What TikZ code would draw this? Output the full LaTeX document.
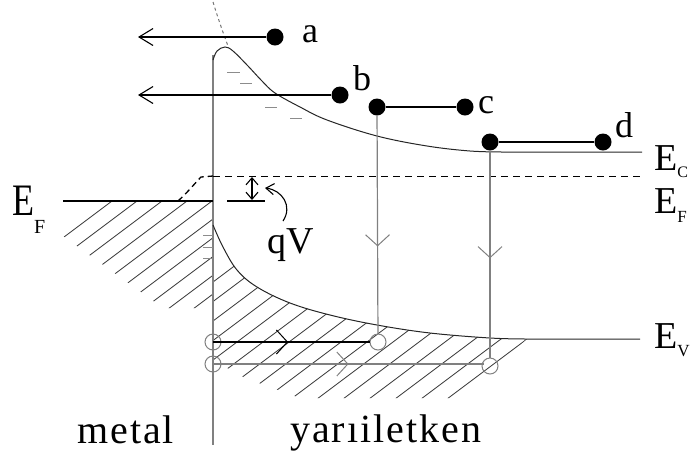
\documentclass[tikz,border=0pt]{standalone}
\usepackage{fontspec}
\setmainfont{Liberation Serif}
\newfontfamily\spaced[LetterSpace=5]{Liberation Serif}
\usetikzlibrary{arrows.meta,decorations.markings}
\newcommand{\Elab}[3]{E\raisebox{-#2}{\fontsize{#3}{#3}\selectfont #1}}
\begin{document}
\begin{tikzpicture}[x=1pt,y=-1pt,
  dot/.style={circle,fill=black,inner sep=0pt,minimum size=17pt},
  hole/.style={circle,draw=black!50,line width=1pt,inner sep=0pt,minimum size=16pt},
  lbl/.style={font=\fontsize{36}{36}\selectfont,inner sep=0pt,anchor=base west},
  elbl/.style={font=\fontsize{38}{38}\selectfont,inner sep=0pt,anchor=base west},
  bottomlbl/.style={font=\spaced\fontsize{40}{40}\selectfont,inner sep=0pt,anchor=base west},
  band/.style={line width=1pt,black!85},
  grayline/.style={line width=1.2pt,black!50},
  hatch/.style={line width=0.8pt,black!80},
  barb/.style={line width=1.1pt,-{Straight Barb[length=14pt,width=17pt,line width=1.1pt]}},
  midarr/.style={postaction={decorate},decoration={markings,
     mark=at position #1 with {\arrow{Straight Barb[length=11pt,width=24pt,line width=1pt]}}}},
  minus/.style={line width=1pt,black!45}
]
\useasboundingbox (0,0) rectangle (695,459);

% hatching: metal
\begin{scope}
  \clip (63,201) -- (213,201) -- (213,308) -- (163,308) -- (63,236) -- cycle;
  \foreach \k in {0,...,11}
    \draw[hatch] ({112+25*\k},201) ++(-200,150) -- ++(400,-300);
\end{scope}
% hatching: semiconductor
\begin{scope}
  \clip plot[smooth,tension=0.6] coordinates {(213,225) (223,247) (237,270) (257,287) (290,303) (330,315) (377,325) (430,333) (490,338) (527,339)}
     -- (458,398) -- (300,398) -- (245,378) -- (213,360) -- cycle;
  \foreach \k in {-2,...,15}
    \draw[hatch] ({527-26*\k},339) ++(-200,150) -- ++(400,-300);
\end{scope}

% interface
\draw[grayline] (213,55) -- (213,445);
\draw[dashed,black!55,line width=1pt] (213,2) .. controls (217,15) and (222,30) .. (228,46);

% conduction band
\draw[band] plot[smooth,tension=0.6] coordinates {(213,60) (217,51) (225,47) (233,51) (248,66) (262,81) (275,93) (300,107) (327,120) (377,136) (427,146) (470,151) (503,152)} -- (642,152);
% valence band
\draw[band] plot[smooth,tension=0.6] coordinates {(213,225) (223,247) (237,270) (257,287) (290,303) (330,315) (377,325) (430,333) (490,338) (527,339)} -- (640,339);

% Fermi levels
\draw[line width=1.1pt] (63,201) -- (213,201);
\draw[line width=1.1pt] (227,201) -- (265,201);
\draw[dashed,line width=1pt,dash pattern=on 7pt off 5pt] (213,176) -- (640,176);
\draw[dashed,line width=1.3pt,dash pattern=on 6pt off 4pt] (178,201) .. controls (188,192) and (196,182) .. (201,177) -- (213,176);
\draw[line width=1.1pt,{Straight Barb[length=7pt,width=12pt]}-{Straight Barb[length=7pt,width=12pt]}] (252,177) -- (252,200);

% charges
\draw[minus] (227,72) -- (240,72);
\draw[minus] (240,83) -- (252,83);
\draw[minus] (265,107) -- (277,107);
\draw[minus] (290,118) -- (302,118);
\draw[minus] (203,235) -- (213,235);
\draw[minus] (203,247) -- (213,247);
\draw[minus] (203,258) -- (213,258);

% electrons
\node[dot] (a) at (275,37) {};
\node[dot] (b) at (340,95) {};
\node[dot] (c1) at (377,107) {};
\node[dot] (c2) at (465,107) {};
\node[dot] (d1) at (490,142) {};
\node[dot] (d2) at (603,142) {};
\coordinate (aend) at (138,37);
\coordinate (bend) at (138,95);
\draw[barb] (a) -- (aend);
\draw[barb] (b) -- (bend);
\draw[line width=1.1pt] (c1) -- (c2);
\draw[line width=1.1pt] (d1) -- (d2);

% holes
\node[hole] (h1) at (213,342) {};
\node[hole] (h2) at (378,342) {};
\node[hole] (h3) at (213,364) {};
\node[hole] (h4) at (490,366) {};
\draw[grayline,midarr=0.6] (c1) -- (h2);
\draw[grayline,midarr=0.52] (d1) -- (h4);
\draw[line width=1.1pt,midarr=0.48] (h1.center) -- (h2.west);
\draw[grayline,midarr=0.5] (h3.center) -- (h4.north west |- h3.center);

% labels
\node[lbl] (la) at (302,42) {a};
\node[lbl] (lb) at (353,90) {b};
\node[lbl] (lc) at (478,113) {c};
\node[lbl] (ld) at (615,137) {d};
\node[elbl] (EC) at (654,170) {\Elab{C}{7pt}{16}};
\node[elbl] (EF2) at (654,213) {\Elab{F}{9pt}{17}};
\node[elbl] (EV) at (654,348) {\Elab{V}{8pt}{17}};
\node[elbl,font=\fontsize{45}{45}\selectfont] (EF1) at (12,215) {\scalebox{0.8}[1]{E}\raisebox{-18pt}{\fontsize{20}{20}\selectfont F}};
\node[elbl] (qV) at (267,253) {qV};
\coordinate (qvs) at (283,221);
\coordinate (qve) at (265,188);
\draw[line width=1.1pt,-{Straight Barb[length=8pt,width=11pt]}] (qvs) .. controls (293,206) and (282,190) .. (qve);
\node[bottomlbl] (metal) at (77,443) {metal};
\node[bottomlbl] (semi) at (290,442) {yarıiletken};
\end{tikzpicture}
\end{document}
